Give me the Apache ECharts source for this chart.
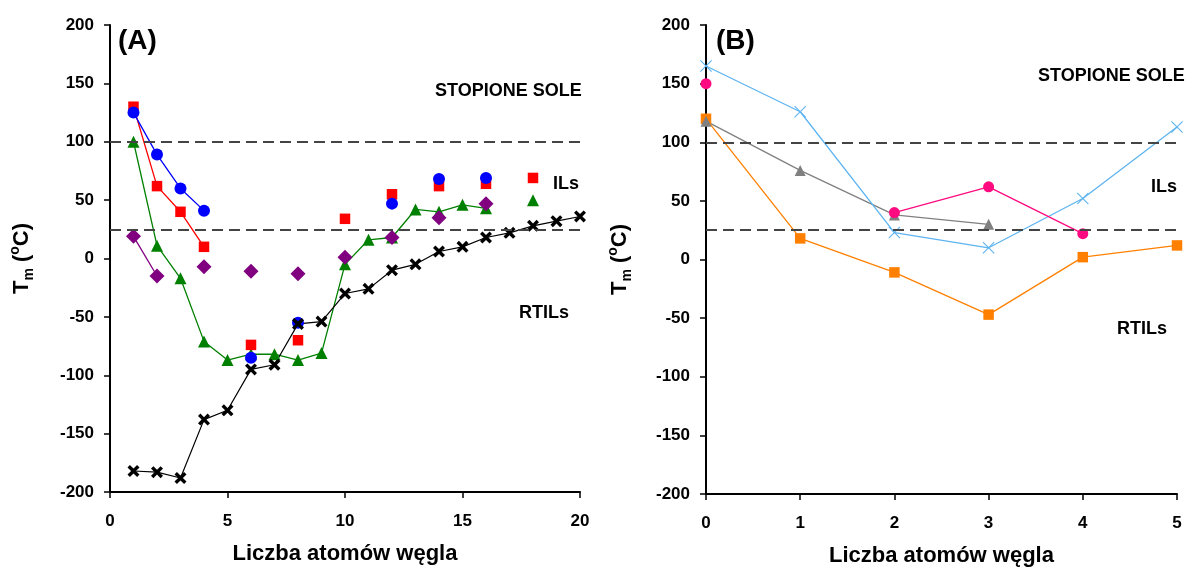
<!DOCTYPE html>
<html>
<head>
<meta charset="utf-8">
<script src="https://cdn.jsdelivr.net/npm/echarts@6/dist/echarts.min.js"></script>
<style>
html,body{margin:0;padding:0;background:#fff;}
#chart{width:1189px;height:572px;}
</style>
</head>
<body>
<div id="chart"></div>
<script>
// ---- Panel A data (number of carbon atoms 1..20) ----
const carbonsA = [1,2,3,4,5,6,7,8,9,10,11,12,13,14,15,16,17,18,19,20];
const greenA  = [100, 11, -17, -71, -87, -82, -82, -87, -81, -5, 16, 18, 42, 40, 46, 43, null, 50, null, null];
const purpleA = [19, -15, null, -7, null, -11, null, -13, null, 1, null, 18, null, 35, null, 47, null, null, null, null];
const redA    = [130, 62, 40, 10, null, -74, null, -70, null, 34, null, 55, null, 62, null, 64, null, 69, null, null];
const blueA   = [125, 89, 60, 41, null, -85, null, -55, null, null, null, 47, null, 68, null, 69, null, null, null, null];
const blackA  = [-182, -183, -188, -138, -130, -95, -91, -56, -54, -30, -26, -10, -5, 6, 10, 18, 22, 28, 32, 36];

// ---- Panel B data (number of carbon atoms 0..5) ----
const carbonsB = [0,1,2,3,4,5];
const orangeB    = [120, 18, -11, -47, 2, 12];
const grayB      = [118, 76, 38, 30, null, null];
const lightBlueB = [165, 126, 23, 10, 52, 113];
const pinkB      = [150, null, 40, 62, 22, null];

// ---- axis ticks / reference lines ----
const yTicks = {min: -200, max: 200, step: 50};
const xTicksA = {min: 0, max: 20, step: 5};
const xTicksB = {min: 0, max: 5, step: 1};
const refLines = [100, 25];

const FONT = '"Liberation Sans", Arial, sans-serif';
const X_THICK = 'path://M0,4 L4,0 L10,6 L16,0 L20,4 L14,10 L20,16 L16,20 L10,14 L4,20 L0,16 L6,10 Z';
const X_THIN  = 'path://M0,1.3 L1.3,0 L10,8.7 L18.7,0 L20,1.3 L11.3,10 L20,18.7 L18.7,20 L10,11.3 L1.3,20 L0,18.7 L8.7,10 Z';

function pairs(xs, ys){ return xs.map((x,i)=>[x, ys[i] === null ? null : ys[i]]); }

function mkSeries(xi, yi, xs, ys, color, symbol, size, extra){
  return Object.assign({
    type: 'line', xAxisIndex: xi, yAxisIndex: yi,
    data: pairs(xs, ys), connectNulls: false,
    symbol: symbol, symbolSize: size, showSymbol: true,
    lineStyle: {color: color, width: 1.3},
    itemStyle: {color: color, opacity: 1},
    emphasis: {disabled: true}, animation: false, z: 3
  }, extra || {});
}

const refMark = {
  silent: true, symbol: 'none', animation: false,
  label: {show: false},
  lineStyle: {color: '#444', type: [11, 6], width: 1.8},
  data: refLines.map(v => ({yAxis: v}))
};

function xAxisCfg(grid, t){
  return {
    type: 'value', gridIndex: grid, min: t.min, max: t.max, interval: t.step,
    name: 'Liczba atomów węgla', nameLocation: 'middle', nameGap: 51,
    nameTextStyle: {fontFamily: FONT, fontWeight: 'bold', fontSize: 22, color: '#000'},
    axisLine: {onZero: false, lineStyle: {color: '#000', width: 2}},
    axisTick: {show: true, inside: false, length: 6, lineStyle: {color: '#000', width: 1.5}},
    axisLabel: {margin: 21, fontFamily: FONT, fontWeight: 'bold', fontSize: 17, color: '#000'},
    splitLine: {show: false}
  };
}
function yAxisCfg(grid, gap){
  return {
    type: 'value', gridIndex: grid, min: yTicks.min, max: yTicks.max, interval: yTicks.step,
    name: '{t|T}{s|m}{t| (}{o|o}{t|C)}', nameLocation: 'middle', nameGap: gap, nameRotate: 90,
    nameTextStyle: {
      color: '#000',
      rich: {
        t: {fontFamily: FONT, fontWeight: 'bold', fontSize: 22, color: '#000', lineHeight: 28, verticalAlign: 'middle'},
        s: {fontFamily: FONT, fontWeight: 'bold', fontSize: 14, color: '#000', lineHeight: 28, verticalAlign: 'bottom', padding: [12, 0, 0, 0]},
        o: {fontFamily: FONT, fontWeight: 'bold', fontSize: 14, color: '#000', lineHeight: 28, verticalAlign: 'top', padding: [0, 0, 10, 0]}
      }
    },
    axisLine: {onZero: false, lineStyle: {color: '#000', width: 2}},
    axisTick: {show: true, inside: false, length: 6, lineStyle: {color: '#000', width: 1.5}},
    axisLabel: {margin: 16, fontFamily: FONT, fontWeight: 'bold', fontSize: 17, color: '#000'},
    splitLine: {show: false}
  };
}

function txt(x, y, s, size, align){
  return {type: 'text', left: x, top: y, silent: true,
    style: {text: s, fontFamily: FONT, fontWeight: 'bold', fontSize: size, fill: '#000', textAlign: align || 'left'}};
}

const chart = echarts.init(document.getElementById('chart'), null, {renderer: 'canvas'});
chart.setOption({
  backgroundColor: '#fff',
  animation: false,
  grid: [
    {left: 110, right: 609, top: 25, bottom: 80},
    {left: 706, right: 12, top: 25, bottom: 77}
  ],
  xAxis: [xAxisCfg(0, xTicksA), xAxisCfg(1, xTicksB)],
  yAxis: [yAxisCfg(0, 74), yAxisCfg(1, 72)],
  series: [
    mkSeries(0, 0, carbonsA, greenA, '#008000', 'triangle', 12, {markLine: refMark}),
    mkSeries(0, 0, carbonsA, purpleA, '#800080', 'diamond', 15),
    mkSeries(0, 0, carbonsA, redA, '#FF0000', 'rect', 10.5),
    mkSeries(0, 0, carbonsA, blueA, '#0000FF', 'circle', 12),
    mkSeries(0, 0, carbonsA, blackA, '#000000', X_THICK, 12, {lineStyle: {color: '#000', width: 1.2}}),
    mkSeries(1, 1, carbonsB, orangeB, '#FF8000', 'rect', 10.5, {markLine: refMark}),
    mkSeries(1, 1, carbonsB, grayB, '#808080', 'triangle', 11),
    mkSeries(1, 1, carbonsB, lightBlueB, '#5DB4F0', X_THIN, 12),
    mkSeries(1, 1, carbonsB, pinkB, '#FF0A80', 'circle', 11)
  ],
  graphic: [
    txt(118, 27, '(A)', 28),
    txt(435, 82, 'STOPIONE SOLE', 18),
    txt(553, 175, 'ILs', 18),
    txt(519, 304, 'RTILs', 18),
    txt(716, 27, '(B)', 28),
    txt(1038, 67, 'STOPIONE SOLE', 18),
    txt(1151, 178, 'ILs', 18),
    txt(1117, 320, 'RTILs', 18)
  ]
});
</script>
</body>
</html>
